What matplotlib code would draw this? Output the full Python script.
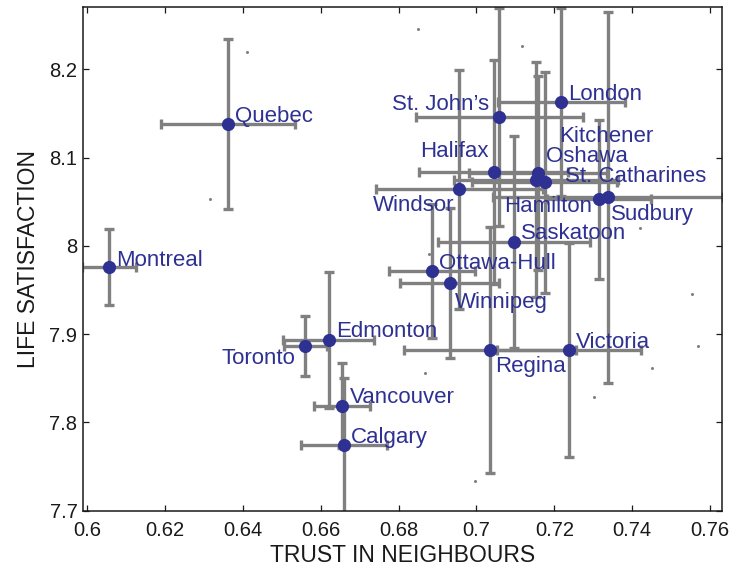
import matplotlib
matplotlib.use("Agg")
import matplotlib.pyplot as plt
from matplotlib.ticker import FuncFormatter

plt.rcParams['font.family'] = ['Liberation Sans', 'DejaVu Sans']

cities = ["Montreal", "Quebec", "Toronto", "Edmonton", "Vancouver", "Calgary",
          "Ottawa-Hull", "Winnipeg", "Regina", "Victoria", "Saskatoon",
          "St. John\u2019s", "London", "Halifax", "Windsor", "Kitchener",
          "Oshawa", "Hamilton", "St. Catharines", "Sudbury"]
trust = [0.6057, 0.6362, 0.6561, 0.6621, 0.6656, 0.6660, 0.6886, 0.6932,
         0.7035, 0.7237, 0.7096, 0.7059, 0.7218, 0.7044, 0.6956, 0.7159,
         0.7153, 0.7176, 0.7315, 0.7338]
life_sat = [7.976, 8.138, 7.887, 7.893, 7.819, 7.774, 7.972, 7.958, 7.882,
            7.882, 8.004, 8.146, 8.163, 8.084, 8.064, 8.083, 8.075, 8.072,
            8.053, 8.055]
trust_err = [0.0070, 0.0172, 0.0056, 0.0117, 0.0072, 0.0110, 0.0110, 0.0127,
             0.0220, 0.0185, 0.0195, 0.0214, 0.0163, 0.0192, 0.0215, 0.0177,
             0.0210, 0.0186, 0.0133, 0.0296]
life_err = [0.043, 0.096, 0.034, 0.077, 0.048, 0.076, 0.076, 0.085, 0.139,
            0.121, 0.120, 0.124, 0.106, 0.127, 0.135, 0.110, 0.133, 0.125,
            0.090, 0.210]

# small grey background points
bg_trust = [0.6849, 0.7117, 0.6411, 0.6315, 0.7420, 0.6878, 0.7555, 0.7570,
            0.7452, 0.7303, 0.6867, 0.6996]
bg_life = [8.2456, 8.2267, 8.2193, 8.0535, 8.0206, 7.9905, 7.9455, 7.8870,
           7.8614, 7.8285, 7.8557, 7.7341]

x_ticks = [0.6, 0.62, 0.64, 0.66, 0.68, 0.7, 0.72, 0.74, 0.76]
y_ticks = [7.7, 7.8, 7.9, 8.0, 8.1, 8.2]

# label offsets (pixels) and alignment
label_layout = [(7, 7, 'left'), (7, 8, 'left'), (-10, -13, 'right'),
                (7, 9, 'left'), (7, 8, 'left'), (7, 8, 'left'),
                (7, 7, 'left'), (5, -20, 'left'), (5, -16, 'left'),
                (7, 8, 'left'), (7, 9, 'left'), (-10, 12, 'right'),
                (7, 7, 'left'), (-5, 20, 'right'), (-5, -16, 'right'),
                (21, 36, 'left'), (10, 23, 'left'), (-41, -24, 'left'),
                (-34, 23, 'left'), (3, -17, 'left')]

blue = '#2E3192'
grey = '#808080'
dark = '#1a1a1a'

fig = plt.figure(figsize=(7.33, 5.70), dpi=100)
ax = fig.add_axes([83/733, 59/570, 639/733, 504/570])

ax.plot(bg_trust, bg_life, 'o', color=grey, ms=2.2, mec='none', zorder=1)
ax.errorbar(trust, life_sat, xerr=trust_err, yerr=life_err, fmt='none',
            ecolor=grey, elinewidth=2.4, capsize=3.5, capthick=2.4, zorder=2)
ax.plot(trust, life_sat, 'o', color=blue, ms=9.5, mec='none', zorder=3)

for name, x, y, (dx, dy, ha) in zip(cities, trust, life_sat, label_layout):
    ax.annotate(name, (x, y), xytext=(dx, dy), textcoords='offset pixels',
                ha=ha, va='center', color=blue, fontsize=16, zorder=4)

ax.set_xlim(0.59897, 0.76308)
ax.set_ylim(7.6997, 8.2706)
ax.set_xticks(x_ticks)
ax.set_yticks(y_ticks)
ax.xaxis.set_major_formatter(FuncFormatter(lambda v, p: f"{v:g}"))
ax.yaxis.set_major_formatter(FuncFormatter(lambda v, p: f"{v:g}"))
ax.tick_params(direction='in', top=True, right=True, length=4.5, width=0.9,
               labelsize=14.5, colors=dark)
ax.tick_params(axis='x', pad=7)
ax.tick_params(axis='y', pad=4)
for s in ax.spines.values():
    s.set_linewidth(1.1)
    s.set_color(dark)

ax.set_xlabel('TRUST IN NEIGHBOURS', fontsize=16.5, color=dark, labelpad=3)
ax.set_ylabel('LIFE SATISFACTION', fontsize=16.5, color=dark, labelpad=7)

fig.savefig('out.png', dpi=100)
